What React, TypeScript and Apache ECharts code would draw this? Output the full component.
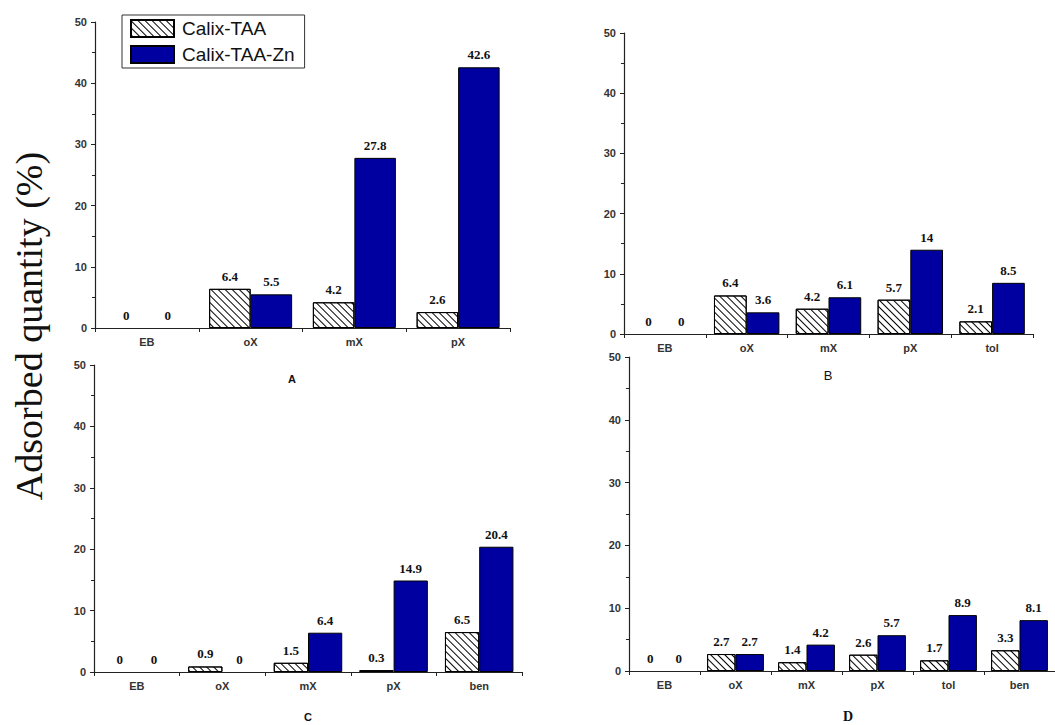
import React, { useEffect, useRef } from "react";
import * as echarts from "echarts";

const seriesNames = ["Calix-TAA", "Calix-TAA-Zn"];

const catsA = ["EB", "oX", "mX", "pX"];
const taaA = [0, 6.4, 4.2, 2.6];
const znA = [0, 5.5, 27.8, 42.6];

const catsB = ["EB", "oX", "mX", "pX", "tol"];
const taaB = [0, 6.4, 4.2, 5.7, 2.1];
const znB = [0, 3.6, 6.1, 14, 8.5];

const catsC = ["EB", "oX", "mX", "pX", "ben"];
const taaC = [0, 0.9, 1.5, 0.3, 6.5];
const znC = [0, 0, 6.4, 14.9, 20.4];

const catsD = ["EB", "oX", "mX", "pX", "tol", "ben"];
const taaD = [0, 2.7, 1.4, 2.6, 1.7, 3.3];
const znD = [0, 2.7, 4.2, 5.7, 8.9, 8.1];

const yTicks = [0, 10, 20, 30, 40, 50];
const yTitle = "Adsorbed quantity (%)";
const panelLetters = ["A", "B", "C", "D"];

export default function App() {
  const ref = useRef<HTMLDivElement>(null);
  useEffect(() => {
    if (!ref.current) return;
    const chart = echarts.init(ref.current, null, { renderer: "svg" });

    const grids = [
      { left: 95, top: 22, width: 415, height: 306 },
      { left: 624, top: 33, width: 409, height: 301 },
      { left: 94, top: 365, width: 428, height: 307 },
      { left: 629, top: 357, width: 436, height: 314 },
    ];
    const cats = [catsA, catsB, catsC, catsD];
    const taa = [taaA, taaB, taaC, taaD];
    const zn = [znA, znB, znC, znD];

    const hatch = {
      symbol: "rect",
      symbolSize: 1,
      color: "#000",
      backgroundColor: "#fff",
      dashArrayX: [1, 0],
      dashArrayY: [1, 3.6],
      rotation: Math.PI / 4,
    };

    const labelStyle = {
      show: true,
      position: "top",
      distance: 6,
      fontFamily: "Liberation Serif",
      fontWeight: "bold",
      fontSize: 13,
      color: "#111",
    };

    const toData = (arr: number[]) =>
      arr.map((v) => (v === 0 ? { value: v, itemStyle: { borderWidth: 0 } } : v));

    const xAxes = cats.map((c, i) => ({
      type: "category",
      gridIndex: i,
      data: c,
      axisLine: { lineStyle: { color: "#222", width: 1.2 } },
      axisTick: { show: true, length: 4, lineStyle: { color: "#222" } },
      axisLabel: {
        fontFamily: "Liberation Sans",
        fontWeight: "bold",
        fontSize: 11,
        color: "#333",
        margin: 8,
      },
    }));
    const yAxes = cats.map((_, i) => ({
      type: "value",
      gridIndex: i,
      min: yTicks[0],
      max: yTicks[yTicks.length - 1],
      interval: 10,
      splitLine: { show: false },
      axisLine: { show: true, lineStyle: { color: "#222", width: 1.2 } },
      axisTick: { show: true, length: 4, lineStyle: { color: "#222" } },
      minorTick: { show: true, splitNumber: 2, length: 3, lineStyle: { color: "#222" } },
      axisLabel: {
        fontFamily: "Liberation Sans",
        fontWeight: "bold",
        fontSize: 11,
        color: "#333",
        margin: 8,
      },
    }));

    const series: any[] = [];
    cats.forEach((_, i) => {
      series.push({
        type: "bar",
        name: seriesNames[0],
        xAxisIndex: i,
        yAxisIndex: i,
        data: toData(taa[i]),
        barGap: "0%",
        barCategoryGap: "20%",
        itemStyle: { color: "#fff", borderColor: "#000", borderWidth: 1, decal: hatch },
        label: labelStyle,
      });
      series.push({
        type: "bar",
        name: seriesNames[1],
        xAxisIndex: i,
        yAxisIndex: i,
        data: toData(zn[i]),
        barGap: "0%",
        barCategoryGap: "20%",
        itemStyle: { color: "#0000A0", borderColor: "#000", borderWidth: 1 },
        label: labelStyle,
      });
    });

    chart.setOption({
      animation: false,
      grid: grids,
      xAxis: xAxes,
      yAxis: yAxes,
      legend: {
        data: seriesNames,
        orient: "vertical",
        left: 122,
        top: 15,
        padding: [4, 10, 4, 8],
        itemGap: 7,
        itemWidth: 43,
        itemHeight: 17,
        icon: "rect",
        borderColor: "#333",
        borderWidth: 1,
        textStyle: { fontFamily: "Liberation Sans", fontSize: 19, color: "#111", padding: [0, 0, 0, 3] },
      },
      graphic: [
        {
          type: "text",
          x: 29,
          y: 326,
          rotation: Math.PI / 2,
          style: {
            text: yTitle,
            font: "38px 'Liberation Serif'",
            fill: "#111",
            textAlign: "center",
            textVerticalAlign: "middle",
          },
        },
        {
          type: "text",
          x: 292,
          y: 379,
          style: { text: panelLetters[0], font: "bold 11px 'Liberation Sans'", fill: "#111", textAlign: "center", textVerticalAlign: "middle" },
        },
        {
          type: "text",
          x: 828,
          y: 375,
          style: { text: panelLetters[1], font: "13px 'Liberation Sans'", fill: "#111", textAlign: "center", textVerticalAlign: "middle" },
        },
        {
          type: "text",
          x: 308,
          y: 717,
          style: { text: panelLetters[2], font: "bold 11px 'Liberation Sans'", fill: "#111", textAlign: "center", textVerticalAlign: "middle" },
        },
        {
          type: "text",
          x: 848,
          y: 716,
          style: { text: panelLetters[3], font: "bold 14px 'Liberation Serif'", fill: "#111", textAlign: "center", textVerticalAlign: "middle" },
        },
      ],
      series,
    });
    return () => chart.dispose();
  }, []);
  return (
    <div
      ref={ref}
      style={{ position: "absolute", left: 0, top: 0, width: 1055, height: 725, background: "#fff" }}
    />
  );
}
